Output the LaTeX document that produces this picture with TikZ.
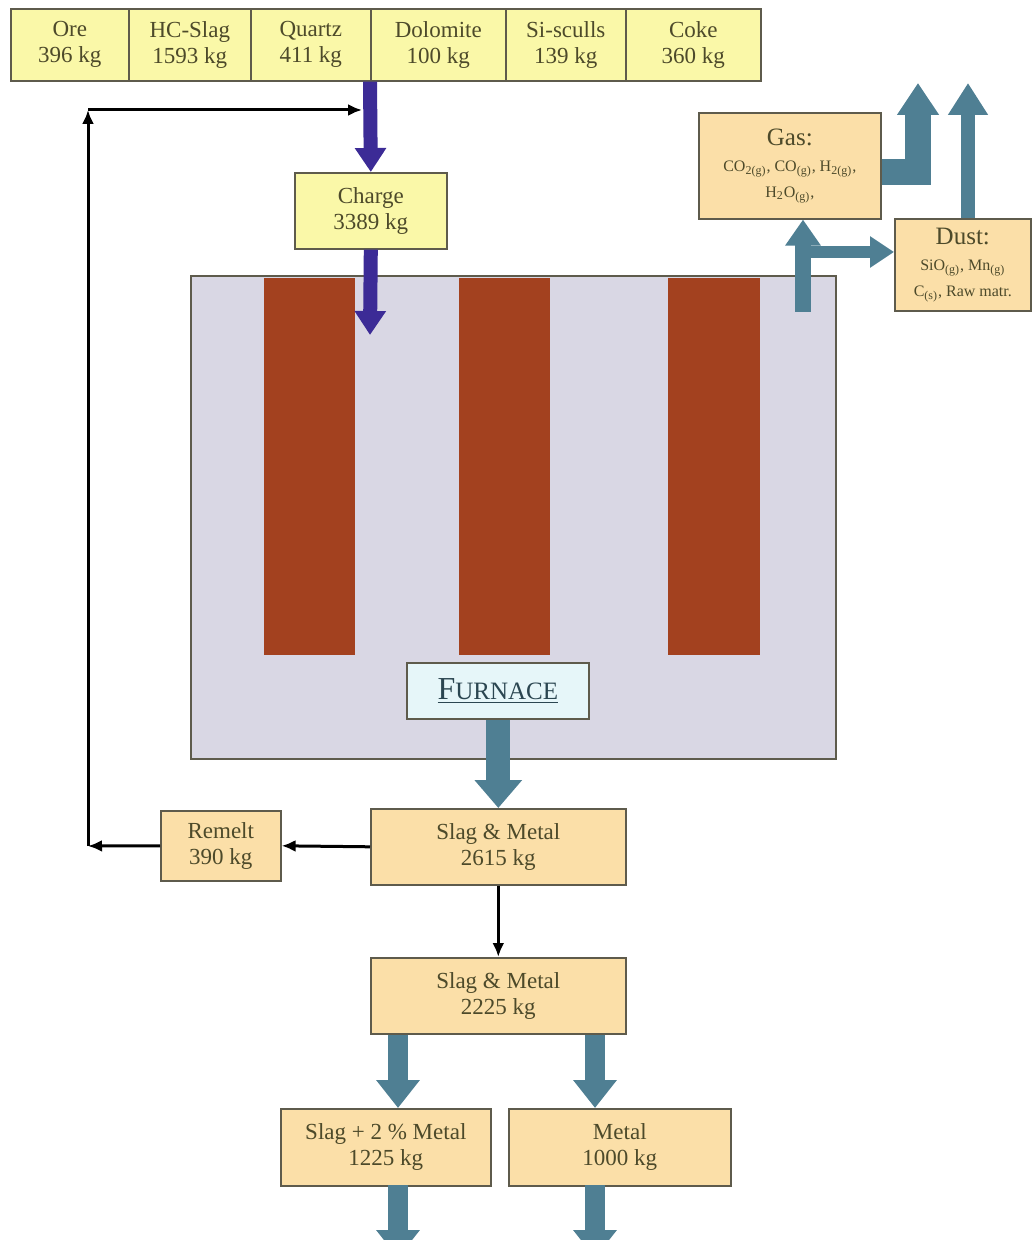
\documentclass[tikz,border=0pt]{standalone}
\usepackage{fontspec}
\setmainfont{Liberation Serif}
\usepackage{tikz}
\usetikzlibrary{positioning}
\usetikzlibrary{arrows.meta}
\usepackage{xcolor}
\definecolor{feedyellow}{HTML}{FAF8A8}
\definecolor{boxtan}{HTML}{FBDFA8}
\definecolor{furngray}{HTML}{D9D7E4}
\definecolor{electrode}{HTML}{A3411F}
\definecolor{labelcyan}{HTML}{E6F6F9}
\definecolor{steelarrow}{HTML}{4F7F93}
\definecolor{chargearrow}{HTML}{3C2B96}
\definecolor{boxtext}{HTML}{4D4A2A}
\definecolor{boxline}{HTML}{5E5B4C}

\begin{document}
\begin{tikzpicture}[x=0.5pt,y=-0.5pt,
   every node/.style={inner sep=0pt,align=center,anchor=north west,text=boxtext,font=\fontsize{11.5}{13}\selectfont},
   feed/.style={draw=boxline,line width=0.8pt,fill=feedyellow,minimum height=36pt},
   stock/.style={draw=boxline,line width=0.8pt,fill=boxtan},
   chargeflow/.style={line width=7pt,chargearrow,-{Triangle[width=15pt,length=12pt]}},
   flow/.style={line width=#1,steelarrow,line join=miter,-{Triangle[width=21pt,length=14pt]}},
   flow/.default=10pt,
   recycle/.style={line width=1.5pt,black,-{Latex[length=7pt,width=6pt]}}]
   \useasboundingbox (0,0) rectangle (1036,1240);
   \node[feed,minimum width=59pt] (ore) at (10,8) {Ore\\396 kg};
   \node[feed,minimum width=61pt] (hcslag) at (128,8) {HC-Slag\\1593 kg};
   \node[feed,minimum width=60pt] (quartz) at (250,8) {Quartz\\411 kg};
   \node[feed,minimum width=67.5pt] (dolomite) at (370,8) {Dolomite\\100 kg};
   \node[feed,minimum width=60pt] (sisculls) at (505,8) {Si-sculls\\139 kg};
   \node[feed,minimum width=67.5pt] (coke) at (625,8) {Coke\\360 kg};
   \node[feed,minimum width=76pt,minimum height=38pt] (charge) at (294,172) {Charge\\3389 kg};
   \node[draw=boxline,line width=0.8pt,fill=furngray,minimum width=322.5pt,minimum height=241.5pt] (furnace) at (190,275) {};
   \node[fill=electrode,minimum width=45.5pt,minimum height=188.5pt] (elA) at (264,278) {};
   \node[fill=electrode,minimum width=45.5pt,minimum height=188.5pt] (elB) at (459,278) {};
   \node[fill=electrode,minimum width=46pt,minimum height=188.5pt] (elC) at (668,278) {};
   \node[draw=boxline,line width=0.8pt,fill=labelcyan,minimum width=91pt,minimum height=28pt,text=steelarrow!55!black] (flabel) at (406,662)
      {\underline{{\fontsize{16}{16}\selectfont F}{\fontsize{12.5}{16}\selectfont URNACE}}};
   \node[stock,minimum width=91pt,minimum height=53pt] (gas) at (698,112)
      {{\fontsize{12.5}{15}\selectfont Gas:}\\ {\fontsize{8}{10}\selectfont CO\textsubscript{2(g)}, CO\textsubscript{(g)}, H\textsubscript{2(g)},}\\ {\fontsize{8}{10}\selectfont H\textsubscript{2}O\textsubscript{(g)},}};
   \node[stock,minimum width=68pt,minimum height=46pt] (dust) at (894,218)
      {{\fontsize{12.5}{15}\selectfont Dust:}\\ {\fontsize{8}{10}\selectfont SiO\textsubscript{(g)}, Mn\textsubscript{(g)}}\\ {\fontsize{8}{10}\selectfont C\textsubscript{(s)}, Raw matr.}};
   \node[stock,minimum width=127.5pt,minimum height=38pt] (slagA) at (370,808) {Slag \& Metal\\2615 kg};
   \node[stock,minimum width=60pt,minimum height=35pt] (remelt) at (160,810) {Remelt\\390 kg};
   \node[stock,minimum width=127.5pt,minimum height=38pt] (slagB) at (370,957) {Slag \& Metal\\2225 kg};
   \node[stock,minimum width=105pt,minimum height=38.5pt] (slagout) at (280,1108) {Slag + 2 \% Metal\\1225 kg};
   \node[stock,minimum width=111pt,minimum height=38.5pt] (metal) at (508,1108) {Metal\\1000 kg};
   \coordinate (chargein) at (370,335);
   \coordinate (vent) at (803,312);
   \coordinate (branch) at (811,252);
   \coordinate (gastop) at (918,83);
   \coordinate (dusttop) at (968,83);
   \coordinate (tapA) at (398,1185);
   \coordinate (tapB) at (595,1185);
   \coordinate (outA) at (398,1258);
   \coordinate (outB) at (595,1258);
   \coordinate (backA) at (88,846);
   \coordinate (backB) at (88,110);
   \coordinate (backC) at (362,110);
   \draw[chargeflow] (dolomite.south west) -- (charge.north);
   \draw[chargeflow] (charge.south) -- (chargein);
   \draw[flow=8pt,-{Triangle[width=17pt,length=13pt]}] (vent) -- (vent |- gas.south);
   \draw[flow=6pt,-{Triangle[width=15pt,length=12pt]}] (branch) -- (branch -| dust.west);
   \draw[flow=13pt,-{Triangle[width=20pt,length=16pt]}] (gas.east |- 0,172) -| (gastop);
   \draw[flow=7pt,-{Triangle[width=19pt,length=16pt]}] (dust.north -| dusttop) -- (dusttop);
   \draw[flow=12pt,-{Triangle[width=23pt,length=14pt]}] (flabel.south -| slagA.north) -- (slagA.north);
   \draw[recycle] (slagA.west) -- (remelt.east);
   \draw[recycle] (remelt.west) -- (backA);
   \draw[recycle] (backA) -- (backB);
   \draw[recycle] (backB) -- (backC);
   \draw[recycle] (slagA.south) -- (slagB.north);
   \draw[flow] (slagB.south -| tapA) -- (slagout.north -| tapA);
   \draw[flow] (slagB.south -| tapB) -- (metal.north -| tapB);
   \draw[flow] (tapA) -- (outA);
   \draw[flow] (tapB) -- (outB);
\end{tikzpicture}
\end{document}
